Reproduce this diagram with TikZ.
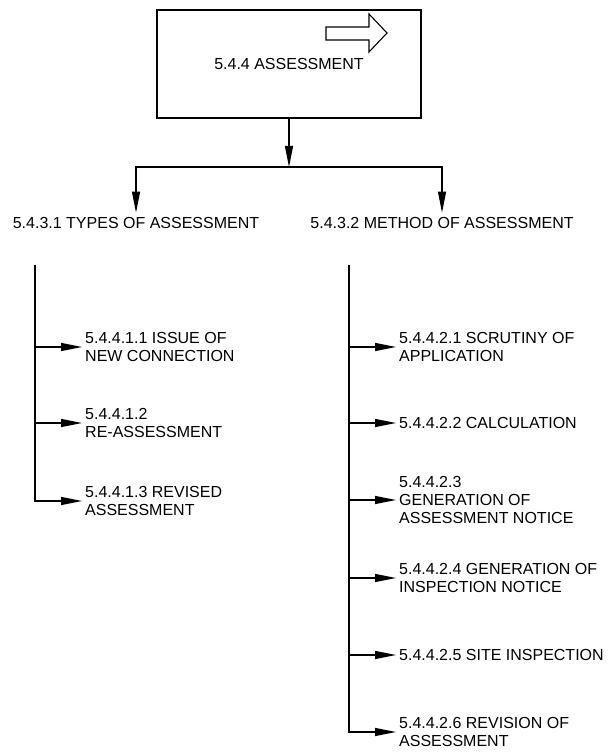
\documentclass[tikz,border=0pt]{standalone}
\usepackage{fontspec}
\setmainfont{Liberation Sans}
\usetikzlibrary{positioning, arrows.meta}
\tikzset{
>={Triangle[length=21pt, width=8pt]}, % long thin filled arrow heads
topbox/.style={draw, line width=1.2pt, minimum width=264pt, minimum height=108pt, inner sep=0pt}, % the main box
part/.style={inner sep=4.5pt}, % the two section titles
leaf/.style={anchor=west, align=left, inner sep=3pt}, % the sub-items
link/.style={->, line width=1.2pt}, % connectors
}

\begin{document}
\begin{tikzpicture}[x=1pt, y=-1pt, font=\fontsize{16}{18}\selectfont]
  \useasboundingbox (0,0) rectangle (609,754);

  % Main box
  \node[topbox] (assess) at (289,64) {5.4.4 ASSESSMENT};
  \draw[line width=1.1pt] (326,27) -- (369,27) -- (369,14) -- (387,33)
    -- (369,52) -- (369,40) -- (326,40) -- cycle;

  % Sections
  \coordinate (split) at (289,167);
  \node[part] (types) at (136,223) {5.4.3.1 TYPES OF ASSESSMENT};
  \node[part] (method) at (442,223) {5.4.3.2 METHOD OF ASSESSMENT};

  % Items
  \coordinate (ltop) at (35,265);
  \node[leaf] (t1) at (82,347) {5.4.4.1.1 ISSUE OF\\NEW CONNECTION};
  \node[leaf] (t2) at (82,423) {5.4.4.1.2\\RE-ASSESSMENT};
  \node[leaf] (t3) at (82,501) {5.4.4.1.3 REVISED\\ASSESSMENT};

  \coordinate (rtop) at (349,265);
  \node[leaf] (m1) at (396,347) {5.4.4.2.1 SCRUTINY OF\\APPLICATION};
  \node[leaf] (m2) at (396,423) {5.4.4.2.2 CALCULATION};
  \node[leaf] (m3) at (396,500) {5.4.4.2.3\\GENERATION OF\\ASSESSMENT NOTICE};
  \node[leaf] (m4) at (396,578) {5.4.4.2.4 GENERATION OF\\INSPECTION NOTICE};
  \node[leaf] (m5) at (396,655) {5.4.4.2.5 SITE INSPECTION};
  \node[leaf] (m6) at (396,732) {5.4.4.2.6 REVISION OF\\ASSESSMENT};

  % Connectors
  \draw[link] (assess) -- (split);
  \draw[link] (split) -| (types);
  \draw[link] (split) -| (method);

  \draw[link] (ltop) |- (t3.west);
  \foreach \n in {t1,t2}
    \draw[link] (ltop |- \n.west) -- (\n.west);

  \draw[link] (rtop) |- (m6.west);
  \foreach \n in {m1,m2,m3,m4,m5}
    \draw[link] (rtop |- \n.west) -- (\n.west);
\end{tikzpicture}
\end{document}
